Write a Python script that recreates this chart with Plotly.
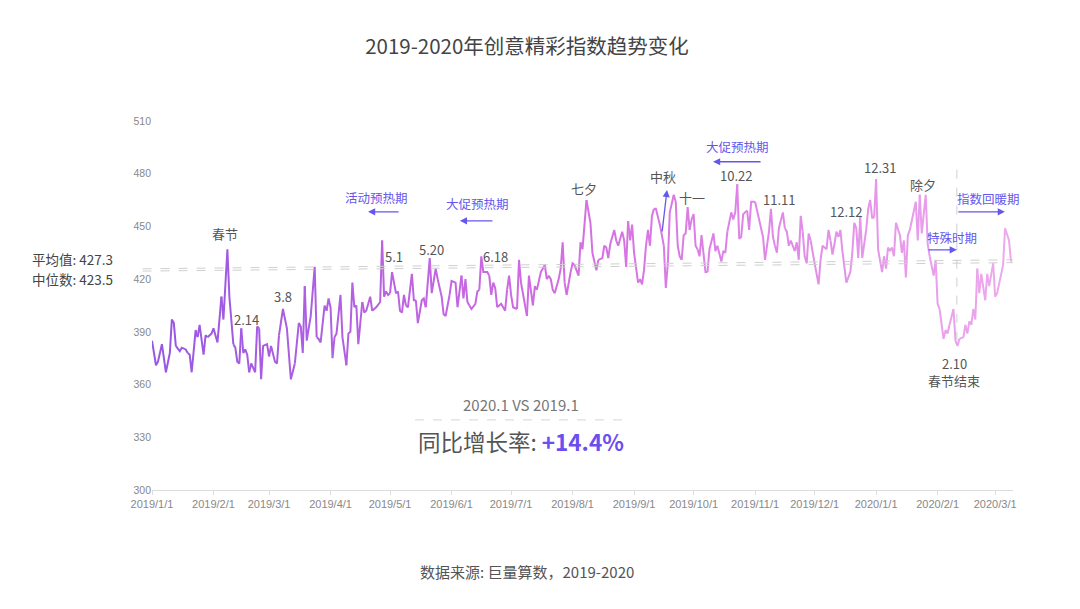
import plotly.graph_objects as go
import pandas as pd
import numpy as np

START = pd.Timestamp("2019-01-01")

# ---- data (day offset since 2019-01-01, index value) ----
day_offsets = [
    0, 2, 3, 5, 7, 9, 10, 11, 12, 14, 15, 17, 18, 19, 20, 22, 23, 24, 26, 27, 28, 30,
    31, 33, 35, 36, 38, 39, 41, 42, 43, 44, 45, 46, 47, 48, 49, 50, 52, 53, 54, 55, 56, 58,
    59, 60, 62, 63, 64, 66, 68, 70, 72, 74, 75, 76, 77, 78, 80, 82, 83, 84, 85, 87, 88, 89,
    90, 91, 92, 93, 95, 96, 98, 99, 100, 101, 102, 103, 104, 105, 106, 107, 108, 110, 111, 112, 113, 115, 116, 117, 118, 119,
    120, 121, 122, 123, 124, 125, 126, 127, 128, 129, 131, 132, 133, 134, 136, 137, 138, 140, 141, 143, 144, 146, 147, 148, 150,
    151, 153, 154, 156, 157, 158, 159, 160, 161, 163, 164, 165, 166, 167, 169, 170, 171, 172, 173, 174, 176, 177, 178, 179, 180,
    181, 182, 184, 185, 186, 187, 189, 190, 192, 193, 194, 195, 196, 198, 199, 200, 201, 202, 203, 205, 206, 207, 208, 209, 211,
    212, 213, 215, 216, 217, 219, 221, 222, 224, 225, 227, 228, 229, 230, 231, 233, 234, 235, 237, 238, 239, 240, 241, 242,
    243, 245, 246, 247, 248, 249, 250, 251, 252, 253, 254, 256, 257, 258, 259, 260, 261, 263, 264, 265, 266, 267, 268, 269, 270, 271, 272,
    273, 274, 275, 276, 277, 279, 280, 281, 283, 284, 285, 287, 288, 289, 290, 292, 293, 294, 295, 296, 297, 298, 300, 301, 302, 303,
    304, 305, 306, 308, 309, 311, 312, 313, 314, 315, 316, 318, 319, 320, 321, 322, 324, 325, 326, 327, 328, 329, 330, 331, 332, 333,
    334, 336, 337, 338, 340, 341, 342, 343, 344, 345, 346, 347, 348, 349, 350, 352, 353, 354, 355, 356, 357, 358, 360, 361, 362, 363, 364,
    365, 366, 368, 369, 370, 371, 372, 373, 374, 375, 377, 378, 379, 380, 381, 382, 384, 385, 386, 387, 388, 390, 391, 392, 394, 395,
    396, 397, 399, 400, 401, 402, 404, 405, 406, 407, 409, 410, 411, 412, 413, 414, 415, 416, 417, 418, 419, 420, 421, 422, 423, 424,
    425, 426, 428, 429, 430, 432, 433,
]
index_values = [
    385, 371, 373, 383, 367, 378, 397, 395, 382, 379, 381, 380, 378, 377, 367, 391, 387, 394, 377, 388, 387, 389,
    392, 384, 410, 397, 437, 410, 383, 381, 373, 372, 392, 378, 380, 377, 367, 372, 367, 393, 392, 363, 382, 383,
    376, 382, 373, 372, 388, 403, 392, 363, 372, 395, 393, 378, 416, 385, 399, 427, 387, 386, 384, 405, 402, 409,
    404, 375, 387, 389, 411, 387, 371, 389, 390, 418, 404, 405, 383, 397, 407, 401, 402, 410, 402, 403, 404, 407, 442, 410, 413, 411,
    412, 424, 418, 412, 413, 402, 401, 411, 405, 404, 423, 408, 408, 395, 408, 409, 404, 432, 412, 426, 420, 410, 400, 399, 411,
    419, 418, 404, 422, 409, 420, 407, 405, 403, 406, 413, 414, 433, 424, 424, 422, 411, 418, 415, 404, 406, 404, 402, 414, 422,
    411, 404, 403, 431, 418, 411, 399, 422, 405, 416, 414, 420, 424, 428, 420, 422, 420, 414, 412, 420, 426, 441, 418, 411, 424,
    429, 428, 422, 441, 437, 465, 452, 435, 425, 431, 432, 439, 438, 432, 440, 448, 442, 439, 447, 442, 427, 453, 442, 451,
    435, 418, 420, 417, 425, 439, 448, 439, 456, 460, 460, 451, 445, 439, 415, 429, 458, 468, 464, 439, 433, 431, 445, 446, 461, 448, 454,
    457, 439, 437, 433, 445, 424, 424, 437, 446, 436, 439, 430, 436, 435, 447, 458, 454, 458, 474, 443, 444, 457, 459, 448, 464, 464,
    464, 458, 454, 444, 431, 447, 460, 444, 439, 435, 449, 458, 449, 447, 439, 442, 436, 441, 431, 456, 447, 433, 429, 446, 442, 434,
    429, 417, 431, 439, 437, 448, 442, 434, 440, 447, 444, 448, 436, 425, 418, 424, 435, 452, 449, 432, 456, 432, 448, 460, 465, 455, 455,
    477, 437, 424, 433, 426, 438, 436, 438, 433, 452, 445, 435, 442, 421, 445, 448, 459, 464, 442, 468, 446, 468, 440, 433, 422, 431,
    406, 403, 386, 391, 389, 394, 403, 385, 382, 386, 387, 394, 389, 396, 394, 403, 397, 426, 412, 423, 416, 408, 423, 416, 424, 429,
    410, 412, 424, 428, 449, 442, 430,
]

tick_dates = ["2019-01-01", "2019-02-01", "2019-03-01", "2019-04-01", "2019-05-01",
              "2019-06-01", "2019-07-01", "2019-08-01", "2019-09-01", "2019-10-01",
              "2019-11-01", "2019-12-01", "2020-01-01", "2020-02-01", "2020-03-01"]
tick_labels = ["2019/1/1", "2019/2/1", "2019/3/1", "2019/4/1", "2019/5/1", "2019/6/1",
               "2019/7/1", "2019/8/1", "2019/9/1", "2019/10/1", "2019/11/1", "2019/12/1",
               "2020/1/1", "2020/2/1", "2020/3/1"]

mean_value = 427.3
median_value = 423.5
yoy_growth = "+14.4%"

# event labels: (day offset, value, text)
event_labels = [
    (37, 446, "春节"), (47.5, 397, "2.14"), (66, 410, "3.8"), (122, 432.7, "5.1"),
    (141, 436.7, "5.20"), (173, 432.7, "6.18"), (218, 471.4, "七夕"), (257.6, 478.2, "中秋"),
    (272, 466.3, "十一"), (294.4, 478.8, "10.22"), (316, 465.1, "11.11"), (349.8, 458.3, "12.12"),
    (367, 483.4, "12.31"), (388.6, 473.7, "除夕"), (404.7, 371.8, "2.10"), (404.2, 362.6, "春节结束"),
]
# period notes: (text day, text value, text, arrow head day, head value, tail dx px, tail dy px)
period_notes = [
    (113.4, 466.3, "活动预热期", 108.9, 458.3, 32, 0),
    (164.3, 462.9, "大促预热期", 155.2, 453.2, 34, 0),
    (294.9, 495.3, "大促预热期", 282.8, 486.8, 49, 0),
    (421.4, 465.7, "指数回暖期", 429.9, 458.3, -48, 0),
    (403.2, 443.5, "特殊时期", 405.7, 436.7, -30, 0),
    (None, None, "", 259.6, 470.8, -5, 43),
]

# ---- styling ----
CJK = "Noto Sans CJK SC, Liberation Sans, sans-serif"
LAT = "Liberation Sans, Noto Sans CJK SC, sans-serif"
BLUE = "#6656ee"
GRAY_TXT = "#555555"


def d(x):
    return START + pd.Timedelta(days=float(x))


dates = START + pd.to_timedelta(day_offsets, unit="D")
vals = np.array(index_values, dtype=float)
n = len(dates)

stops_f = [0.0, 0.45, 1.0]
stops_c = [(152, 88, 226), (212, 108, 226), (238, 170, 238)]


def color_at(f):
    r = np.interp(f, stops_f, [c[0] for c in stops_c])
    g = np.interp(f, stops_f, [c[1] for c in stops_c])
    b = np.interp(f, stops_f, [c[2] for c in stops_c])
    return f"rgb({int(r)},{int(g)},{int(b)})"


fig = go.Figure()
chunk = 4
for i in range(0, n - 1, chunk):
    j = min(i + chunk, n - 1)
    frac = (i + j) / 2 / (n - 1)
    fig.add_trace(go.Scatter(
        x=dates[i:j + 1], y=vals[i:j + 1], mode="lines",
        line=dict(color=color_at(frac), width=2),
        hoverinfo="skip", showlegend=False,
    ))

shapes = [
    # mean / median reference lines
    dict(type="line", xref="paper", yref="y", x0=-0.011, x1=1.0, y0=425.9, y1=431.0,
         line=dict(color="#cfcfcf", width=1, dash="dash")),
    dict(type="line", xref="paper", yref="y", x0=-0.011, x1=1.0, y0=424.6, y1=429.4,
         line=dict(color="#cfcfcf", width=1, dash="dash")),
    # vertical marker at end of Spring Festival
    dict(type="line", xref="x", yref="y", x0=d(405.7), x1=d(405.7), y0=385, y1=484,
         line=dict(color="#cfcfcf", width=1, dash="dash")),
    # separator under comparison title
    dict(type="line", xref="paper", yref="paper", x0=0.3055, x1=0.555, y0=0.19, y1=0.19,
         line=dict(color="#d5d5d5", width=1, dash="dash")),
]

annotations = []
for dd, vv, tt in event_labels:
    annotations.append(dict(x=d(dd), y=vv, xref="x", yref="y", text=tt, showarrow=False,
                            font=dict(family=CJK, size=13, color=GRAY_TXT)))

for td, tv, tt, hd, hv, ax, ay in period_notes:
    if tt:
        annotations.append(dict(x=d(td), y=tv, xref="x", yref="y", text=tt, showarrow=False,
                                font=dict(family=CJK, size=12.5, color=BLUE)))
    annotations.append(dict(x=d(hd), y=hv, xref="x", yref="y", text="", showarrow=True,
                            ax=ax, ay=ay, arrowhead=2, arrowsize=1.1, arrowwidth=1.3,
                            arrowcolor=BLUE))

annotations += [
    dict(x=-0.043, y=0.626, xref="paper", yref="paper", xanchor="right", yanchor="middle",
         text=f"平均值: {mean_value}", showarrow=False,
         font=dict(family=CJK, size=13.5, color="#444444")),
    dict(x=-0.043, y=0.572, xref="paper", yref="paper", xanchor="right", yanchor="middle",
         text=f"中位数: {median_value}", showarrow=False,
         font=dict(family=CJK, size=13.5, color="#444444")),
    dict(x=0.4286, y=0.233, xref="paper", yref="paper", xanchor="center", yanchor="middle",
         text="2020.1 VS 2019.1", showarrow=False,
         font=dict(family=CJK, size=15, color="#777777")),
    dict(x=0.4286, y=0.1328, xref="paper", yref="paper", xanchor="center", yanchor="middle",
         text=f"同比增长率: <b><span style='color:#6a4ef0'>{yoy_growth}</span></b>",
         showarrow=False, font=dict(family=CJK, size=22.5, color="#555555")),
    dict(x=0.436, y=-0.222, xref="paper", yref="paper", xanchor="center", yanchor="middle",
         text="数据来源: 巨量算数，2019-2020", showarrow=False,
         font=dict(family=CJK, size=15, color="#555555")),
]

fig.update_layout(
    width=1080, height=609,
    margin=dict(l=152, r=67, t=121, b=119),
    paper_bgcolor="white", plot_bgcolor="white",
    title=dict(text="2019-2020年创意精彩指数趋势变化", x=0.488, xanchor="center",
               y=1 - 47 / 609, yanchor="middle",
               font=dict(family=CJK, size=20.5, color="#444444")),
    xaxis=dict(
        type="date", range=[START, d(434)],
        tickmode="array", tickvals=tick_dates, ticktext=tick_labels,
        showgrid=False, zeroline=False,
        showline=True, linecolor="#dddddd", linewidth=1,
        ticks="outside", ticklen=4, tickcolor="#dddddd",
        tickfont=dict(family=LAT, size=11, color="#888888"),
    ),
    yaxis=dict(
        range=[300, 510], tickmode="array", tickvals=[300, 330, 360, 390, 420, 450, 480, 510],
        showgrid=False, zeroline=False, showline=False, ticks="",
        tickfont=dict(family=LAT, size=10.5, color="#888888"),
    ),
    shapes=shapes,
    annotations=annotations,
    showlegend=False,
)

fig.write_html("out.html")
